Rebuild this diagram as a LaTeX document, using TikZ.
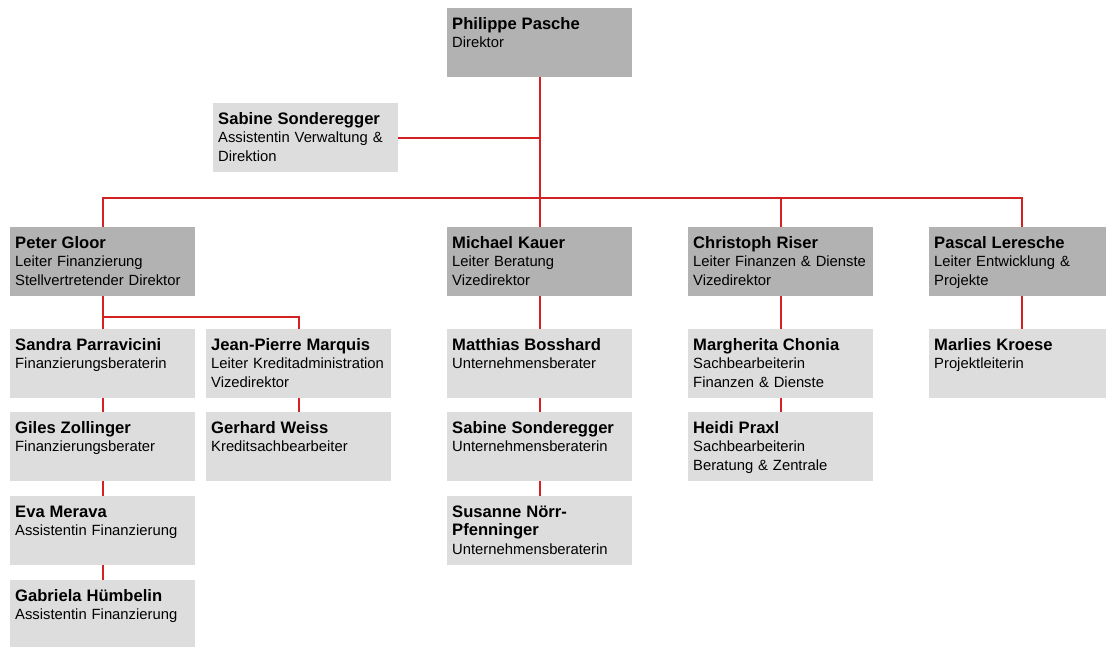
\documentclass[tikz,border=0pt]{standalone}
\usepackage{fontspec}
\setmainfont{Liberation Sans}
\definecolor{headgray}{HTML}{B2B2B2}
\definecolor{staffgray}{HTML}{DDDDDD}
\definecolor{linkred}{HTML}{D42121}
\newcommand{\who}[1]{{\fontsize{16.6pt}{18.5pt}\selectfont\bfseries #1}}
\tikzset{
  card/.style={anchor=north west, inner xsep=5pt, inner ysep=0pt, text width=175pt,
    align=left, text height=21pt, text depth=48pt,
    font=\fontsize{14.8pt}{18.5pt}\selectfont},
  head/.style={card, fill=headgray},
  staff/.style={card, fill=staffgray},
  link/.style={draw=linkred, line width=1.6pt},
  stem/.style={draw=linkred, line width=2.2pt}
}
\begin{document}
\begin{tikzpicture}[x=1pt,y=-1pt]
  \useasboundingbox (0,0) rectangle (1106,646);
  \node[head] (pp) at (447,8) {\who{Philippe Pasche}\\Direktor};
  \node[staff] (ss) at (213,103) {\who{Sabine Sonderegger}\\Assistentin Verwaltung \&\\Direktion};

  \node[head] (pg) at (10,227) {\who{Peter Gloor}\\Leiter Finanzierung\\Stellvertretender Direktor};
  \node[head] (mk) at (447,227) {\who{Michael Kauer}\\Leiter Beratung\\Vizedirektor};
  \node[head] (cr) at (688,227) {\who{Christoph Riser}\\Leiter Finanzen \& Dienste\\Vizedirektor};
  \node[head] (lr) at (929,227) {\who{Pascal Leresche}\\Leiter Entwicklung \&\\Projekte};

  \node[staff] (sp) at (10,329) {\who{Sandra Parravicini}\\Finanzierungsberaterin};
  \node[staff] (gz) at (10,412) {\who{Giles Zollinger}\\Finanzierungsberater};
  \node[staff] (em) at (10,496) {\who{Eva Merava}\\Assistentin Finanzierung};
  \node[staff] (gh) at (10,580) {\who{Gabriela Hümbelin}\\Assistentin Finanzierung};
  \node[staff] (jm) at (206,329) {\who{Jean-Pierre Marquis}\\Leiter~Kreditadministration\\Vizedirektor};
  \node[staff] (gw) at (206,412) {\who{Gerhard Weiss}\\Kreditsachbearbeiter};

  \node[staff] (mb) at (447,329) {\who{Matthias Bosshard}\\Unternehmensberater};
  \node[staff] (ss2) at (447,412) {\who{Sabine Sonderegger}\\Unternehmensberaterin};
  \node[staff] (sn) at (447,496) {\who{Susanne Nörr-\\Pfenninger}\\Unternehmensberaterin};

  \node[staff] (mc) at (688,329) {\who{Margherita Chonia}\\Sachbearbeiterin\\Finanzen \& Dienste};
  \node[staff] (hp) at (688,412) {\who{Heidi Praxl}\\Sachbearbeiterin\\Beratung \& Zentrale};

  \node[staff] (mk2) at (929,329) {\who{Marlies Kroese}\\Projektleiterin};

  \coordinate (bus) at (pp.south |- 0,198);
  \draw[link] (pp.south) -- (mk.north);
  \draw[link] (ss.east) -- (ss.east -| pp.south);
  \draw[link] (pg.north) |- (bus) -| (lr.north);
  \draw[link] (cr.north) -- (cr.north |- bus);

  \draw[stem] (pg.south) -- (sp.north);
  \draw[link] (jm.north) -- ++(0,-12) -| (pg.south);
  \draw[stem] (sp.south) -- (gz.north) (gz.south) -- (em.north) (em.south) -- (gh.north);
  \draw[stem] (jm.south) -- (gw.north);
  \draw[stem] (mk.south) -- (mb.north) (mb.south) -- (ss2.north) (ss2.south) -- (sn.north);
  \draw[stem] (cr.south) -- (mc.north) (mc.south) -- (hp.north);
  \draw[stem] (lr.south) -- (mk2.north);
\end{tikzpicture}
\end{document}
